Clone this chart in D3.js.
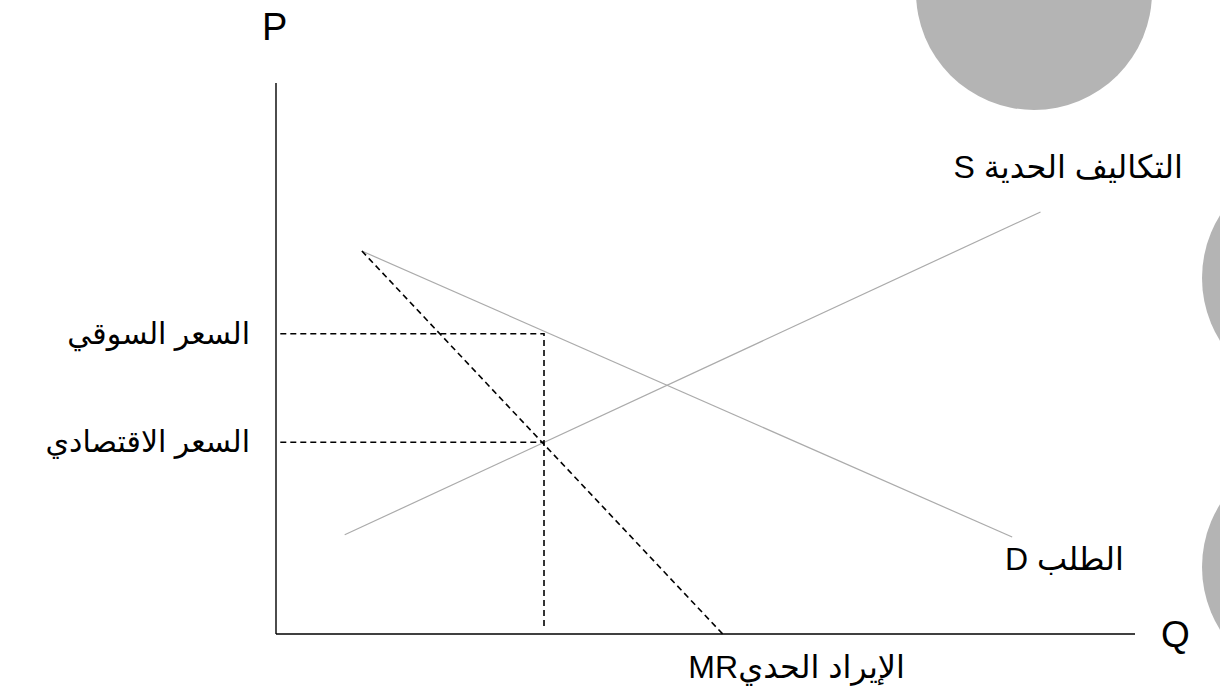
<!DOCTYPE html>
<html>
<head>
<meta charset="utf-8">
<script src="https://d3js.org/d3.v7.min.js"></script>
<style>
body {
    margin: 0;
    padding: 0;
    background: #fff;
}
svg {
    display: block;
    font-family: "Liberation Sans", "DejaVu Sans", sans-serif;
}
.curve {
    fill: none;
    stroke: #ababab;
    stroke-width: 1.2;
}
.dashed {
    fill: none;
    stroke: #000;
    stroke-width: 1.6;
    stroke-dasharray: 6,4;
}
.axis-line {
    stroke: #000;
    stroke-width: 1.4;
}
.lbl {
    fill: #000;
}
</style>
</head>
<body>
<script>
// quantities (Q) and prices (P), in axis units 0..100
var supplyQ = [8, 89];
var supplyP = [18, 76.6];

var demandQ = [10, 85.7];
var demandP = [69.5, 17.6];

var mrQ = [10, 52];
var mrP = [69.5, 0];

var optimumQ = 31.2;
var marketPrice = 54.5;
var economicPrice = 34.8;

var axisLabels = ["P", "Q"];
var priceLabels = ["السعر السوقي", "السعر الاقتصادي"];
var curveLabels = ["التكاليف الحدية S", "الطلب D", "الإيراد الحديMR"];

var width = 1220;
var height = 693;

var x = d3.scaleLinear().domain([0, 100]).range([276, 1135]);
var y = d3.scaleLinear().domain([0, 100]).range([634, 83]);

var svg = d3.select("body")
    .append("svg")
    .attr("width", width)
    .attr("height", height);

// decorative grey discs from the slide theme
var discs = [
    {cx: 1034, cy: -8, r: 118},
    {cx: 1320, cy: 278, r: 118},
    {cx: 1320, cy: 567, r: 118}
];
svg.selectAll("circle.disc")
    .data(discs)
    .enter().append("circle")
    .attr("class", "disc")
    .attr("cx", function (d) { return d.cx; })
    .attr("cy", function (d) { return d.cy; })
    .attr("r", function (d) { return d.r; })
    .attr("fill", "#b4b4b4");

var line = d3.line()
    .x(function (d) { return x(d[0]); })
    .y(function (d) { return y(d[1]); });

// axes
svg.append("line")
    .attr("class", "axis-line")
    .attr("x1", x(0)).attr("y1", y(0))
    .attr("x2", x(0)).attr("y2", y(100));
svg.append("line")
    .attr("class", "axis-line")
    .attr("x1", x(0)).attr("y1", y(0))
    .attr("x2", x(100)).attr("y2", y(0));

// supply (marginal cost) and demand
svg.append("path")
    .attr("class", "curve")
    .attr("d", line(d3.zip(supplyQ, supplyP)));
svg.append("path")
    .attr("class", "curve")
    .attr("d", line(d3.zip(demandQ, demandP)));

// marginal revenue
svg.append("path")
    .attr("class", "dashed")
    .attr("d", line(d3.zip(mrQ, mrP)));

// guide lines
svg.append("path")
    .attr("class", "dashed")
    .attr("d", line([[0.5, marketPrice], [optimumQ, marketPrice], [optimumQ, 1.3]]));
svg.append("path")
    .attr("class", "dashed")
    .attr("d", line([[0.5, economicPrice], [optimumQ, economicPrice]]));

// axis letters
svg.append("text")
    .attr("class", "lbl")
    .attr("x", x(0) - 14)
    .attr("y", 40)
    .attr("font-size", 38)
    .text(axisLabels[0]);
svg.append("text")
    .attr("class", "lbl")
    .attr("x", 1161)
    .attr("y", y(0) + 13)
    .attr("font-size", 37)
    .text(axisLabels[1]);

function arabic(txt, xr, yb, size) {
    return svg.append("text")
        .attr("class", "lbl")
        .attr("direction", "rtl")
        .style("direction", "rtl")
        .style("unicode-bidi", "embed")
        .attr("text-anchor", "start")
        .attr("x", xr)
        .attr("y", yb)
        .attr("font-size", size)
        .text(txt);
}

arabic(priceLabels[0], x(0) - 26, y(marketPrice) + 10, 30);
arabic(priceLabels[1], x(0) - 26, y(economicPrice) + 10, 30);

arabic(curveLabels[0], 1183, 178, 32);
arabic(curveLabels[1], 1124, 570, 32);
arabic(curveLabels[2], 905, 678, 32);
</script>
</body>
</html>
